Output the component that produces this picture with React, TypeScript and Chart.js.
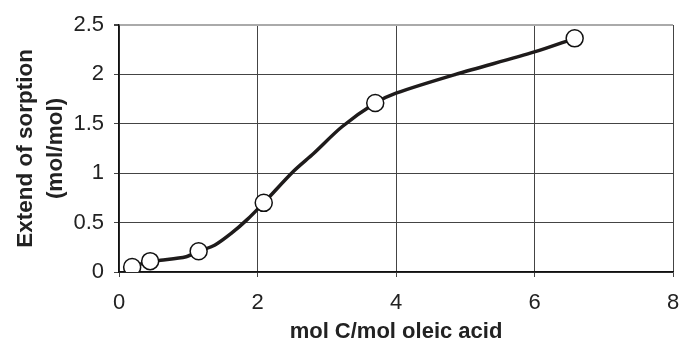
import React, { useEffect, useRef } from "react";
import { Chart, registerables } from "chart.js";

Chart.register(...registerables);

// Measured points (markers)
const pointX = [0.19, 0.45, 1.15, 2.09, 3.70, 6.58];
const pointY = [0.05, 0.11, 0.21, 0.70, 1.71, 2.365];

// Smoothed curve
const curveX = [0.19, 0.45, 0.6, 0.97, 1.15, 1.38, 1.62, 1.85, 2.09, 2.52, 2.81, 3.22, 3.70, 4.0, 4.86, 6.01, 6.58];
const curveY = [0.05, 0.11, 0.12, 0.155, 0.21, 0.27, 0.39, 0.53, 0.70, 1.02, 1.20, 1.47, 1.71, 1.81, 2.0, 2.23, 2.365];

const xTicks = [0, 2, 4, 6, 8];
const yTicks = [0, 0.5, 1, 1.5, 2, 2.5];

const xTitle = "mol C/mol oleic acid";
const yTitle = ["Extend of sorption", "(mol/mol)"];

const FONT = "'Liberation Sans', Arial, Helvetica, sans-serif";

export default function App() {
  const ref = useRef<HTMLCanvasElement | null>(null);

  useEffect(() => {
    document.body.style.margin = "0";
    const canvas = ref.current;
    if (!canvas) return;
    const chart = new Chart(canvas, {
      type: "scatter",
      data: {
        datasets: [
          {
            label: "points",
            data: pointX.map((x, i) => ({ x, y: pointY[i] })),
            showLine: false,
            pointRadius: 8.5,
            pointBorderWidth: 1.5,
            pointBackgroundColor: "#ffffff",
            pointBorderColor: "#111111",
            order: 0,
          },
          {
            label: "curve",
            data: curveX.map((x, i) => ({ x, y: curveY[i] })),
            showLine: true,
            pointRadius: 0,
            borderColor: "#1e1b1b",
            borderWidth: 3.5,
            tension: 0.3,
            order: 1,
          },
        ],
      },
      options: {
        animation: false,
        responsive: false,
        maintainAspectRatio: false,
        layout: { padding: { left: 10, right: 2, top: 25, bottom: 0 } },
        plugins: {
          legend: { display: false },
          tooltip: { enabled: false },
        },
        scales: {
          x: {
            type: "linear",
            min: 0,
            max: 8,
            afterBuildTicks: (scale: any) => {
              scale.ticks = xTicks.map((v) => ({ value: v }));
            },
            afterFit: (scale: any) => {
              scale.height = 68;
            },
            ticks: {
              color: "#222",
              font: { family: FONT, size: 22, lineHeight: 2.25 },
              padding: 1,
              maxRotation: 0,
              callback: (v: any) => String(v),
            },
            grid: {
              color: "#444",
              lineWidth: 1,
              tickLength: 5,
              tickColor: "#444",
            },
            border: { color: "#111", width: 1.5 },
            title: {
              display: true,
              text: xTitle,
              color: "#222",
              font: { family: FONT, size: 22, weight: "bold", lineHeight: 0.75 },
              padding: { top: 0, bottom: 0 },
            },
          },
          y: {
            type: "linear",
            min: 0,
            max: 2.5,
            afterBuildTicks: (scale: any) => {
              scale.ticks = yTicks.map((v) => ({ value: v }));
            },
            afterFit: (scale: any) => {
              scale.width = 109;
            },
            ticks: {
              color: "#222",
              font: { family: FONT, size: 22 },
              padding: 10,
              callback: (v: any) => String(v),
            },
            grid: {
              color: (ctx: any) => (ctx.tick && ctx.tick.value === 2.5 ? "#aaaaaa" : "#444"),
              lineWidth: (ctx: any) => (ctx.tick && ctx.tick.value === 2.5 ? 2 : 1),
              tickLength: 5,
              tickColor: "#444",
            },
            border: { color: "#111", width: 1.5 },
            title: {
              display: true,
              text: yTitle,
              color: "#222",
              font: { family: FONT, size: 22.5, weight: "bold", lineHeight: 1.36 },
              padding: { top: 0, bottom: 0 },
            },
          },
        },
      },
    });
    return () => chart.destroy();
  }, []);

  return (
    <div style={{ position: "absolute", left: 0, top: 0, width: 683, height: 340 }}>
      <canvas ref={ref} width={683} height={340} style={{ width: 683, height: 340 }} />
    </div>
  );
}
